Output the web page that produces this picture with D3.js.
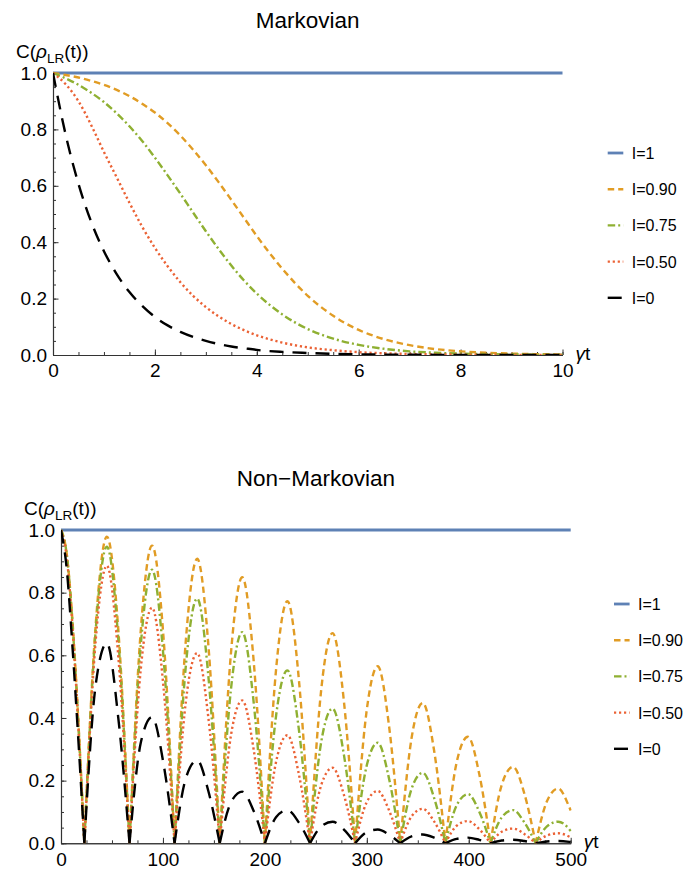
<!DOCTYPE html>
<html><head><meta charset="utf-8">
<script src="https://cdn.jsdelivr.net/npm/d3@7/dist/d3.min.js"></script>
<style>
body{margin:0;background:#fff;}
text{font-family:"Liberation Sans",Arial,Helvetica,sans-serif;}
</style>
</head><body>
<svg id="chart" width="686" height="870"></svg>
<script>
// ---------------- DATA ----------------
const seriesLabels = ["I=1", "I=0.90", "I=0.75", "I=0.50", "I=0"];
const seriesColors = ["#5E81B5", "#E19C24", "#8FB032", "#EB6235", "#000000"];

// Markovian panel
const markovT = [0, 0.25, 0.5, 0.75, 1, 1.25, 1.5, 1.75, 2, 2.25, 2.5, 2.75, 3, 3.25, 3.5, 3.75, 4, 4.5, 5, 5.5, 6, 6.5, 7, 7.5, 8, 9, 10];
const markovFlatT = [0, 10];
const markovI100 = [1, 1];
const markovI090 = [1, 0.993, 0.984, 0.972, 0.958, 0.94, 0.918, 0.891, 0.86, 0.822, 0.778, 0.728, 0.673, 0.613, 0.55, 0.486, 0.422, 0.306, 0.21, 0.139, 0.089, 0.056, 0.035, 0.021, 0.013, 0.005, 0.002];
const markovI075 = [1, 0.981, 0.958, 0.93, 0.897, 0.857, 0.811, 0.759, 0.70, 0.637, 0.572, 0.505, 0.439, 0.376, 0.317, 0.264, 0.218, 0.144, 0.092, 0.058, 0.036, 0.022, 0.013, 0.008, 0.005, 0.002, 0.001];
const markovI050 = [1, 0.96, 0.90, 0.815, 0.72, 0.63, 0.54, 0.455, 0.38, 0.315, 0.258, 0.21, 0.17, 0.137, 0.11, 0.088, 0.07, 0.044, 0.027, 0.017, 0.01, 0.006, 0.0037, 0.0022, 0.0014, 0.0005, 0.0002];
const markovI000 = [1, 0.78, 0.607, 0.472, 0.368, 0.287, 0.223, 0.174, 0.135, 0.105, 0.082, 0.064, 0.05, 0.039, 0.03, 0.024, 0.018, 0.011, 0.007, 0.004, 0.0025, 0.0015, 0.0009, 0.0006, 0.0003, 0.0001, 0];

// Non-Markovian panel
const nonMarkovT = [0, 5.7, 11.4, 17.2, 22.9,
  34.0, 45.0, 56.1, 67.2,
  78.2, 89.3, 100.4, 111.4,
  122.5, 133.6, 144.6, 155.7,
  166.8, 177.8, 188.9, 200.0,
  211.1, 222.1, 233.2, 244.3,
  255.3, 266.4, 277.5, 288.5,
  299.6, 310.7, 321.7, 332.8,
  343.9, 354.9, 366.0, 377.1,
  388.1, 399.2, 410.3, 421.3,
  432.4, 443.5, 454.5, 465.6,
  476.7, 487.7, 498.8, 500];
const nonMarkovFlatT = [0, 500];
const nonMarkovI100 = [1, 1];
const nonMarkovI090 = [1, 0.922, 0.703, 0.379, 0,
  0.696, 0.979, 0.687, 0,
  0.677, 0.95, 0.664, 0,
  0.649, 0.908, 0.631, 0,
  0.610, 0.849, 0.586, 0,
  0.559, 0.773, 0.528, 0,
  0.491, 0.671, 0.454, 0,
  0.417, 0.565, 0.377, 0,
  0.336, 0.448, 0.296, 0,
  0.258, 0.34, 0.221, 0,
  0.187, 0.244, 0.159, 0,
  0.134, 0.175, 0.114, 0.105];
const nonMarkovI075 = [1, 0.92, 0.695, 0.372, 0,
  0.679, 0.947, 0.656, 0,
  0.630, 0.873, 0.600, 0,
  0.568, 0.781, 0.532, 0,
  0.494, 0.674, 0.453, 0,
  0.410, 0.552, 0.367, 0,
  0.324, 0.43, 0.283, 0,
  0.244, 0.321, 0.208, 0,
  0.174, 0.225, 0.145, 0,
  0.121, 0.157, 0.101, 0,
  0.083, 0.106, 0.067, 0,
  0.054, 0.069, 0.044, 0.039];
const nonMarkovI050 = [1, 0.91, 0.685, 0.365, 0,
  0.646, 0.886, 0.601, 0,
  0.554, 0.752, 0.504, 0,
  0.453, 0.607, 0.400, 0,
  0.346, 0.456, 0.301, 0,
  0.262, 0.345, 0.223, 0,
  0.186, 0.241, 0.155, 0,
  0.129, 0.167, 0.106, 0,
  0.086, 0.110, 0.070, 0,
  0.056, 0.071, 0.045, 0,
  0.037, 0.047, 0.030, 0,
  0.025, 0.032, 0.021, 0.019];
const nonMarkovI000 = [1, 0.873, 0.62, 0.32, 0,
  0.505, 0.639, 0.403, 0,
  0.320, 0.403, 0.257, 0,
  0.208, 0.265, 0.166, 0,
  0.131, 0.165, 0.104, 0,
  0.084, 0.106, 0.067, 0,
  0.054, 0.069, 0.044, 0,
  0.035, 0.044, 0.028, 0,
  0.022, 0.028, 0.018, 0,
  0.014, 0.018, 0.011, 0,
  0.009, 0.0115, 0.0073, 0,
  0.0058, 0.0074, 0.0047, 0.0042];

// Tick labels
const yTicks = [0, 0.2, 0.4, 0.6, 0.8, 1.0];
const markovXTicks = [0, 2, 4, 6, 8, 10];
const nonMarkovXTicks = [0, 100, 200, 300, 400, 500];

// ---------------- STYLES ----------------
const dashes = [null, "6.5,4", "7.5,3,2,3", "2.2,2.8", "14,9"];
const widths = [2.8, 2.4, 2.4, 2.4, 2.4];

const svg = d3.select("#chart");

function drawPanel(cfg) {
  const x = d3.scaleLinear().domain(cfg.xDomain).range(cfg.xRange);
  const y = d3.scaleLinear().domain([0, 1]).range(cfg.yRange);
  const g = svg.append("g");
  const clipId = "clip" + cfg.id;
  g.append("clipPath").attr("id", clipId).append("rect")
    .attr("x", cfg.xRange[0]).attr("y", cfg.yRange[1] - 3)
    .attr("width", cfg.xRange[1] - cfg.xRange[0] + 1)
    .attr("height", cfg.yRange[0] - cfg.yRange[1] + 3);

  // title
  g.append("text").attr("x", (cfg.xRange[0] + cfg.xRange[1]) / 2).attr("y", cfg.titleY)
    .attr("text-anchor", "middle").attr("font-size", 22.5).attr("fill", "#000").text(cfg.title);

  // axes
  const axCol = "#333";
  const xMinor = d3.axisBottom(x).tickValues(cfg.xMinor).tickSize(-3).tickSizeOuter(0).tickFormat("");
  const xMajor = d3.axisBottom(x).tickValues(cfg.xTicks).tickSize(-5.5).tickSizeOuter(0).tickPadding(9).tickFormat(d3.format("d"));
  const yMinor = d3.axisLeft(y).tickValues(d3.range(0, 1.0001, 0.05)).tickSize(-3).tickSizeOuter(0).tickFormat("");
  const yMajor = d3.axisLeft(y).tickValues(yTicks).tickSize(-5.5).tickSizeOuter(0).tickPadding(6).tickFormat(d3.format(".1f"));
  [[xMinor, "x"], [xMajor, "x"], [yMinor, "y"], [yMajor, "y"]].forEach(([ax, k]) => {
    const a = g.append("g")
      .attr("transform", k === "x" ? `translate(0,${cfg.yRange[0]})` : `translate(${cfg.xRange[0]},0)`)
      .call(ax);
    a.selectAll("path.domain").attr("stroke", axCol).attr("stroke-width", 1.1);
    a.selectAll(".tick line").attr("stroke", axCol).attr("stroke-width", 1);
    a.selectAll("text").attr("font-size", 19).attr("fill", "#000")
      .attr("font-family", '"Liberation Sans",Arial,sans-serif');
  });

  // y label
  const yl = g.append("text").attr("x", cfg.xRange[0] - 37).attr("y", cfg.yRange[1] - 15)
    .attr("font-size", 19).attr("fill", "#000");
  yl.append("tspan").text("C(");
  yl.append("tspan").attr("font-style", "italic").text("ρ");
  yl.append("tspan").attr("font-size", 13.5).attr("dy", 4.5).text("LR");
  yl.append("tspan").attr("dy", -4.5).text("(t))");

  // x label
  const xl = g.append("text").attr("x", cfg.xRange[1] + 13).attr("y", cfg.yRange[0] + 5)
    .attr("font-size", 19).attr("fill", "#000");
  xl.append("tspan").attr("font-style", "italic").text("γ");
  xl.append("tspan").text("t");

  // curves
  const line = d3.line().x(d => x(d[0])).y(d => y(d[1])).curve(d3.curveMonotoneX);
  const plot = g.append("g").attr("clip-path", `url(#${clipId})`);
  cfg.series.forEach((s, i) => {
    const pts = s.t.map((t, j) => [t, s.c[j]]);
    let segs = [];
    if (cfg.split) {
      let cur = [];
      pts.forEach(p => {
        cur.push(p);
        if (p[1] === 0 && cur.length > 1) { segs.push(cur); cur = [p]; }
      });
      if (cur.length > 1) segs.push(cur);
    } else segs = [pts];
    const d = segs.map(sg => line(sg)).join("");
    plot.append("path").attr("d", d).attr("fill", "none")
      .attr("stroke", seriesColors[i]).attr("stroke-width", widths[i])
      .attr("stroke-dasharray", dashes[i]);
  });

  // legend
  const lg = g.append("g");
  seriesLabels.forEach((lab, i) => {
    const yy = cfg.legendY + i * 36.2;
    lg.append("line").attr("x1", cfg.legendX).attr("x2", cfg.legendX + 15.6)
      .attr("y1", yy).attr("y2", yy)
      .attr("stroke", seriesColors[i]).attr("stroke-width", widths[i])
      .attr("stroke-dasharray", dashes[i]);
    lg.append("text").attr("x", cfg.legendX + 24).attr("y", yy + 6)
      .attr("font-size", 16).attr("fill", "#000").text(lab);
  });
}

drawPanel({
  id: "m", title: "Markovian", titleY: 28,
  xDomain: [0, 10], xRange: [53, 562.5], yRange: [355, 73],
  xTicks: markovXTicks, xMinor: d3.range(0, 10.001, 0.5),
  split: false, legendX: 607.7, legendY: 153,
  series: [
    {t: markovFlatT, c: markovI100},
    {t: markovT, c: markovI090},
    {t: markovT, c: markovI075},
    {t: markovT, c: markovI050},
    {t: markovT, c: markovI000}
  ]
});

drawPanel({
  id: "n", title: "Non\u2212Markovian", titleY: 486,
  xDomain: [0, 500], xRange: [61, 570.7], yRange: [843.3, 530],
  xTicks: nonMarkovXTicks, xMinor: d3.range(0, 500.001, 25),
  split: true, legendX: 614, legendY: 604,
  series: [
    {t: nonMarkovFlatT, c: nonMarkovI100},
    {t: nonMarkovT, c: nonMarkovI090},
    {t: nonMarkovT, c: nonMarkovI075},
    {t: nonMarkovT, c: nonMarkovI050},
    {t: nonMarkovT, c: nonMarkovI000}
  ]
});
</script>
</body></html>
